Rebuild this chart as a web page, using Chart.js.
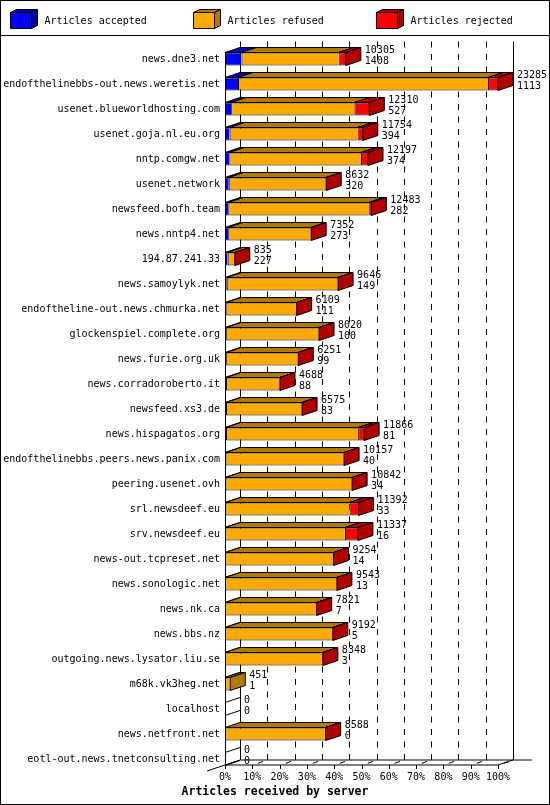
<!DOCTYPE html>
<html>
<head>
<meta charset="utf-8">
<script src="https://cdn.jsdelivr.net/npm/chart.js@4.4.1/dist/chart.umd.min.js"></script>
<style>
	html, body { margin: 0; padding: 0; background: #fff; }
	#wrap { position: relative; width: 550px; height: 805px; }
</style>
</head>
<body>
<div id="wrap"><canvas id="chart-articles-by-server"></canvas></div>
<script>
// Servers, top to bottom
const SERVERS = [
	"news.dne3.net",
	"endofthelinebbs-out.news.weretis.net",
	"usenet.blueworldhosting.com",
	"usenet.goja.nl.eu.org",
	"nntp.comgw.net",
	"usenet.network",
	"newsfeed.bofh.team",
	"news.nntp4.net",
	"194.87.241.33",
	"news.samoylyk.net",
	"endoftheline-out.news.chmurka.net",
	"glockenspiel.complete.org",
	"news.furie.org.uk",
	"news.corradoroberto.it",
	"newsfeed.xs3.de",
	"news.hispagatos.org",
	"endofthelinebbs.peers.news.panix.com",
	"peering.usenet.ovh",
	"srl.newsdeef.eu",
	"srv.newsdeef.eu",
	"news-out.tcpreset.net",
	"news.sonologic.net",
	"news.nk.ca",
	"news.bbs.nz",
	"outgoing.news.lysator.liu.se",
	"m68k.vk3heg.net",
	"localhost",
	"news.netfront.net",
	"eotl-out.news.tnetconsulting.net",
];

// Totals and accepted counts as printed next to the bars
const TOTAL = [10305, 23285, 12310, 11754, 12197, 8632, 12483, 7352, 835, 9646, 6109, 8020, 6251, 4688, 6575, 11866, 10157, 10842, 11392, 11337, 9254, 9543, 7821, 9192, 8348, 451, 0, 8588, 0];
const ACCEPTED = [1408, 1113, 527, 394, 374, 320, 282, 273, 227, 149, 111, 100, 99, 88, 83, 81, 40, 34, 33, 16, 14, 13, 7, 5, 3, 1, 0, 0, 0];
// Refused / rejected
const REFUSED = [8277, 21322, 10503, 10905, 11223, 8302, 11951, 7019, 588, 9487, 5988, 7910, 6142, 4590, 6482, 11275, 10107, 10798, 10589, 10211, 9230, 9520, 7804, 9177, 8335, 450, 0, 8578, 0];
const REJECTED = [620, 850, 1280, 455, 600, 10, 250, 60, 20, 10, 10, 10, 10, 10, 10, 510, 10, 10, 770, 1110, 10, 10, 10, 10, 10, 0, 0, 10, 0];

const SERIES_NAMES = ["Articles accepted", "Articles refused", "Articles rejected"];
const TICK_LABELS = ["0%", "10%", "20%", "30%", "40%", "50%", "60%", "70%", "80%", "90%", "100%"];
const AXIS_TITLE = "Articles received by server";

const COLORS = {
	face: ["#0000ff", "#ffaa00", "#ff0000"],
	shade: ["#0000b0", "#b37800", "#b00000"],
};
const FONT = "DejaVu Sans Mono";
const MAX_TOTAL = Math.max(...TOTAL);
const DX = 15;
const DY = 5;

//---------------------------------------------------------
// Helpers
//---------------------------------------------------------
const poly = (ctx, pts, fill) => {
	ctx.beginPath();
	ctx.moveTo(pts[0][0], pts[0][1]);
	for (let i = 1; i < pts.length; i++) ctx.lineTo(pts[i][0], pts[i][1]);
	ctx.closePath();
	if (fill) {
		ctx.fillStyle = fill;
		ctx.fill();
	}
	ctx.stroke();
};

const line = (ctx, x1, y1, x2, y2) => {
	ctx.beginPath();
	ctx.moveTo(x1, y1);
	ctx.lineTo(x2, y2);
	ctx.stroke();
};

//---------------------------------------------------------
// Plugins
//---------------------------------------------------------
// Page frame and legend with small 3D boxes
const frameLegend = {
	id: "frameLegend",
	beforeDraw(chart) {
		const { ctx, width, height } = chart;
		ctx.save();
		ctx.fillStyle = "#fff";
		ctx.fillRect(0, 0, width, height);
		ctx.restore();
	},
	afterDraw(chart) {
		const { ctx, width, height } = chart;
		ctx.save();
		ctx.strokeStyle = "#000";
		ctx.lineWidth = 1;
		ctx.strokeRect(0.5, 0.5, width - 1, height - 1);
		line(ctx, 0, 35.5, width, 35.5);

		ctx.font = `10px ${FONT}`;
		ctx.textBaseline = "middle";
		ctx.textAlign = "left";
		chart.data.datasets.forEach((ds, i) => {
			const x = 10.5 + i * 183;
			const y = 12.5;
			const w = 21;
			const h = 16;
			poly(ctx, [[x, y], [x + w, y], [x + w + 6, y - 3], [x + 6, y - 3]], COLORS.shade[i]);
			poly(ctx, [[x + w, y], [x + w + 6, y - 3], [x + w + 6, y + h - 3], [x + w, y + h]], COLORS.shade[i]);
			poly(ctx, [[x, y], [x + w, y], [x + w, y + h], [x, y + h]], COLORS.face[i]);
			ctx.fillStyle = "#000";
			ctx.fillText(ds.label, x + 34, 21);
		});
		ctx.restore();
	},
};

// Back wall, floor and dashed grid behind the bars
const wall3d = {
	id: "wall3d",
	beforeDatasetsDraw(chart) {
		const { ctx, chartArea, scales } = chart;
		const { left, right, top, bottom } = chartArea;
		const xs = scales.x;
		const floorFront = bottom - 6.5;
		const floorBack = floorFront - DY;
		const wallTop = top - 5;
		ctx.save();
		ctx.strokeStyle = "#000";
		ctx.lineWidth = 1;

		// dashed grid on back wall
		ctx.setLineDash([6, 6.5]);
		xs.ticks.forEach((t, i) => {
			if (i === 0 || i === xs.ticks.length - 1) return;
			const x = Math.round(xs.getPixelForValue(t.value) + DX) + 0.5;
			line(ctx, x, wallTop, x, floorBack);
		});
		ctx.setLineDash([]);

		// wall edges
		line(ctx, left + DX + 0.5, wallTop, left + DX + 0.5, floorBack);
		line(ctx, right + DX + 0.5, wallTop, right + DX + 0.5, floorBack);

		// floor
		line(ctx, left + DX, floorBack, right + DX + 19, floorBack);
		line(ctx, left + DX, floorBack, left - 18, floorFront + 6);
		line(ctx, left, floorFront, right, floorFront);
		line(ctx, right, floorFront, right + DX, floorBack);
		line(ctx, left + 0.5, top + 6, left + 0.5, floorFront);

		xs.ticks.forEach((t) => {
			const x = Math.round(xs.getPixelForValue(t.value)) + 0.5;
			line(ctx, x, floorFront, x, floorFront + 4);
			line(ctx, x + DX * 0.35, floorFront - DY * 0.35, x + DX * 0.7, floorFront - DY * 0.7);
		});
		ctx.restore();
	},
	afterDatasetsDraw(chart) {
		const { ctx, chartArea } = chart;
		const metas = chart.data.datasets.map((_, d) => chart.getDatasetMeta(d));
		ctx.save();
		ctx.strokeStyle = "#000";
		ctx.lineWidth = 1;
		ctx.font = `10px ${FONT}`;
		ctx.textBaseline = "middle";
		ctx.textAlign = "left";

		SERVERS.forEach((_, i) => {
			const first = metas[0].data[i];
			const yTop = first.y - first.height / 2;
			const yBot = first.y + first.height / 2;
			let last = -1;
			let xEnd = chartArea.left;
			metas.forEach((meta, d) => {
				const bar = meta.data[i];
				const val = chart.data.datasets[d].data[i];
				if (val > 0) {
					const x0 = Math.min(bar.base, bar.x);
					const x1 = Math.max(bar.base, bar.x);
					poly(ctx, [[x0, yTop], [x1, yTop], [x1 + DX, yTop - DY], [x0 + DX, yTop - DY]], COLORS.shade[d]);
					last = d;
					xEnd = x1;
				}
			});
			if (last >= 0) {
				poly(ctx, [[xEnd, yTop], [xEnd + DX, yTop - DY], [xEnd + DX, yBot - DY], [xEnd, yBot]], COLORS.shade[last]);
			} else {
				line(ctx, xEnd, yTop, xEnd + DX, yTop - DY);
				line(ctx, xEnd, yBot, xEnd + DX, yBot - DY);
			}
			ctx.fillStyle = "#000";
			ctx.fillText(String(TOTAL[i]), xEnd + DX + 4, first.y - 9);
			ctx.fillText(String(ACCEPTED[i]), xEnd + DX + 4, first.y + 2);
		});
		ctx.restore();
	},
};

//---------------------------------------------------------
// Chart
//---------------------------------------------------------
const barStyle = (i) => ({
	backgroundColor: COLORS.face[i],
	borderColor: "#000",
	borderWidth: { left: 1, top: 1, bottom: 1, right: 0 },
	borderSkipped: false,
	barThickness: 13,
	inflateAmount: 0,
});

const CHART_DATA = {
	labels: SERVERS,
	datasets: [
		{ label: SERIES_NAMES[0], data: ACCEPTED, ...barStyle(0) },
		{ label: SERIES_NAMES[1], data: REFUSED, ...barStyle(1) },
		{ label: SERIES_NAMES[2], data: REJECTED, ...barStyle(2) },
	],
};

const CHART_CONFIG = {
	type: "bar",
	data: CHART_DATA,
	options: {
		indexAxis: "y",
		responsive: true,
		maintainAspectRatio: false,
		animation: false,
		layout: {
			padding: { top: 46.5, left: 0, right: 0, bottom: 0 },
		},
		scales: {
			x: {
				stacked: true,
				min: 0,
				max: MAX_TOTAL,
				border: { display: false },
				grid: { display: false, drawTicks: false },
				afterBuildTicks: (scale) => {
					scale.ticks = TICK_LABELS.map((_, i) => ({ value: (i * MAX_TOTAL) / (TICK_LABELS.length - 1) }));
				},
				afterFit: (scale) => {
					scale.height = 13.7;
				},
				ticks: {
					autoSkip: false,
					maxRotation: 0,
					padding: 0,
					color: "#000",
					font: { family: FONT, size: 10 },
					callback: (value, index) => TICK_LABELS[index],
				},
			},
			y: {
				stacked: true,
				border: { display: false },
				grid: { display: false, drawTicks: false },
				afterFit: (scale) => {
					scale.width = 225;
				},
				ticks: {
					autoSkip: false,
					padding: 5,
					color: "#000",
					font: { family: FONT, size: 10 },
				},
			},
			y2: {
				type: "category",
				position: "right",
				border: { display: false },
				grid: { display: false, drawTicks: false },
				ticks: { display: false },
				afterFit: (scale) => {
					scale.width = 52;
				},
			},
		},
		plugins: {
			legend: { display: false },
			tooltip: { enabled: false },
			title: {
				display: true,
				position: "bottom",
				text: AXIS_TITLE,
				color: "#000",
				font: { family: FONT, size: 11.5, weight: "bold", lineHeight: 1.2 },
				padding: { top: 0, bottom: 6 },
			},
		},
	},
	plugins: [frameLegend, wall3d],
};

new Chart(document.getElementById("chart-articles-by-server"), CHART_CONFIG);
</script>
</body>
</html>
